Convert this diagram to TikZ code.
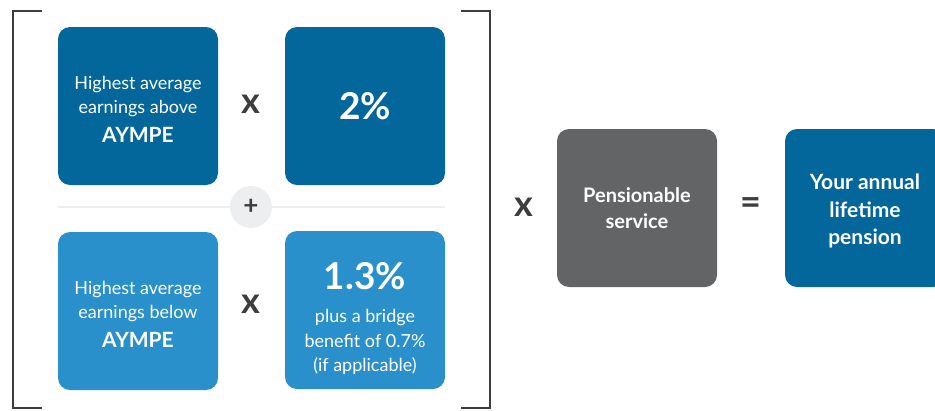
\documentclass[tikz,border=0pt]{standalone}
\usepackage{fontspec}
\setmainfont{Lato}
\usepackage{tikz}

\definecolor{darkblue}{HTML}{04679C}
\definecolor{lightblue}{HTML}{2A90CC}
\definecolor{servicegray}{HTML}{636466}
\definecolor{signgray}{HTML}{3D3D3D}
\definecolor{rulegray}{HTML}{EDEEEF}

\begin{document}
\begin{tikzpicture}[x=1pt,y=-1pt,
    card/.style={rounded corners=12pt, minimum width=160pt, minimum height=158pt,
      text=white, align=center, inner sep=0pt},
    sign/.style={text=signgray, font=\bfseries\fontsize{36}{36}\selectfont},
    body/.style={font=\fontsize{18}{24}\selectfont}]
    \useasboundingbox (0,0) rectangle (935,410);
    % brackets
    \draw[signgray, line width=2.5pt] (42,11) -- (13,11) -- (13,408) -- (42,408);
    \draw[signgray, line width=2.5pt] (461,11) -- (490,11) -- (490,408) -- (461,408);
    \draw[rulegray, line width=2.5pt] (58,207) -- (445,207);
    % upper row
    \node[card, fill=darkblue, body] (above) at (138,106)
      {\rule{0pt}{20pt}Highest average\\earnings above\\[5pt]{\fontsize{21}{24}\selectfont\bfseries AYMPE}};
    \node[sign] (times1) at (251,104) {x};
    \node[card, fill=darkblue, font=\bfseries\fontsize{37}{37}\selectfont] (rate) at (365,106) {2\%};
    \node[circle, fill=rulegray, minimum size=42pt, inner sep=0pt,
      text=signgray, font=\bfseries\fontsize{26}{26}\selectfont] (plus) at (251,207) {+};
    % lower row
    \node[card, fill=lightblue, body] (below) at (138,311)
      {\rule{0pt}{20pt}Highest average\\earnings below\\[5pt]{\fontsize{21}{24}\selectfont\bfseries AYMPE}};
    \node[sign] (times2) at (251,304) {x};
    \node[card, fill=lightblue, font=\fontsize{18}{24.5}\selectfont] (bridge) at (365,310)
      {\rule{0pt}{44pt}{\fontsize{37}{36}\selectfont\bfseries 1.3\%}\\[9pt]plus a bridge\\benefit of 0.7\%\\(if applicable)};
    % right part
    \node[sign] (times3) at (524,207) {x};
    \node[card, fill=servicegray, font=\bfseries\fontsize{20}{26}\selectfont] (service) at (637,208)
      {Pensionable\\service};
    \node[sign] (equals) at (751,206) {=};
    \node[card, fill=darkblue, font=\bfseries\fontsize{21}{27.5}\selectfont] (pension) at (865,208)
      {\rule{0pt}{22pt}Your annual\\lifetime\\pension};
  \end{tikzpicture}
\end{document}
